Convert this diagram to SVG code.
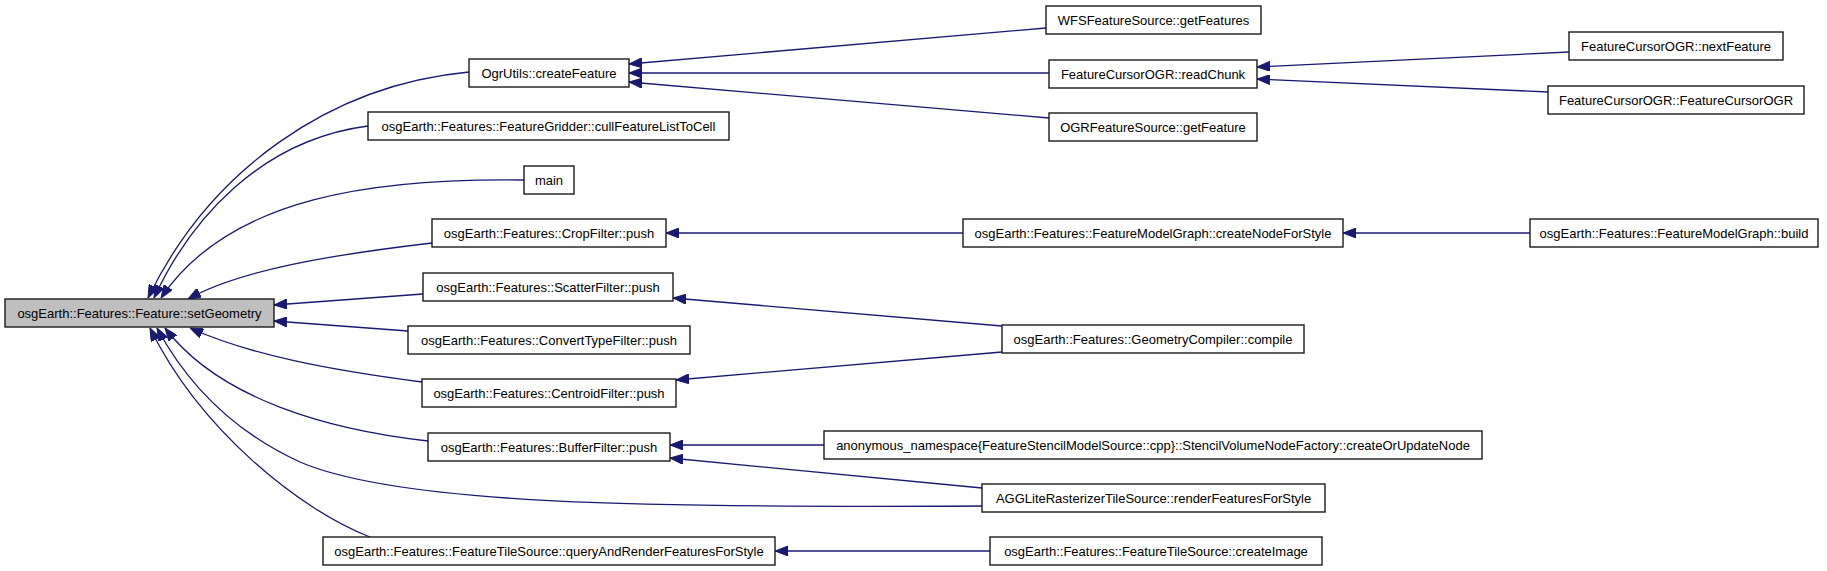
<svg xmlns="http://www.w3.org/2000/svg" width="1827" height="571" viewBox="0 0 1827 571">
<style>
.n rect{fill:#ffffff;stroke:#1a1a1a;stroke-width:1.4}
.n.cur rect{fill:#bfbfbf}
.n text{font-family:"Liberation Sans",Arial,sans-serif;font-size:13px;fill:#000;text-anchor:middle}
.e path{fill:none;stroke:#191970;stroke-width:1.3;marker-end:url(#arr)}
</style>
<defs>
<marker id="arr" viewBox="0 0 13 10" refX="13" refY="5" markerWidth="13" markerHeight="10" markerUnits="userSpaceOnUse" orient="auto">
<path d="M0,0 L13,5 L0,10 z" fill="#191970" stroke="#191970" stroke-width="1"/>
</marker>
</defs>
<rect width="1827" height="571" fill="#ffffff"/>
<g id="edges" class="e">
<path d="M469,72 C330,85 210,170 148,298"/>
<path d="M368,126 C260,140 190,220 154,298"/>
<path d="M524,180 C380,178 230,195 161,298"/>
<path d="M432,243 C330,255 240,270 188,299"/>
<path d="M423,294 L274,305"/>
<path d="M408,331 L274,321"/>
<path d="M422,382 C330,370 250,355 190,328"/>
<path d="M428,441 C330,430 220,400 165,328"/>
<path d="M982,506 C650,508 400,505 300,462 C230,430 185,380 157,328"/>
<path d="M370,537 C300,510 200,430 150,328"/>
<path d="M1046,28 L629,64"/>
<path d="M1049,73 L629,73"/>
<path d="M1049,118 L629,82"/>
<path d="M1569,52 L1257,67"/>
<path d="M1548,92 L1257,79"/>
<path d="M963,233 L666,233"/>
<path d="M1530,233 L1343,233"/>
<path d="M1002,326 L673,298"/>
<path d="M1002,352 L676,380"/>
<path d="M824,445 L670,445"/>
<path d="M982,488 L670,458"/>
<path d="M990,551 L775,551"/>
</g>
<g id="n_setGeometry" class="n cur"><rect x="5" y="299" width="269" height="28"/><text x="139.5" y="317.5">osgEarth::Features::Feature::setGeometry</text></g>
<g id="n_createFeature" class="n"><rect x="469" y="59" width="160" height="28"/><text x="549" y="77.5">OgrUtils::createFeature</text></g>
<g id="n_cull" class="n"><rect x="368" y="112" width="361" height="28"/><text x="548.5" y="130.5">osgEarth::Features::FeatureGridder::cullFeatureListToCell</text></g>
<g id="n_main" class="n"><rect x="524" y="166" width="50" height="28"/><text x="549" y="184.5">main</text></g>
<g id="n_crop" class="n"><rect x="432" y="219" width="234" height="28"/><text x="549" y="237.5">osgEarth::Features::CropFilter::push</text></g>
<g id="n_scatter" class="n"><rect x="423" y="273" width="250" height="28"/><text x="548" y="291.5">osgEarth::Features::ScatterFilter::push</text></g>
<g id="n_convert" class="n"><rect x="408" y="326" width="282" height="28"/><text x="549" y="344.5">osgEarth::Features::ConvertTypeFilter::push</text></g>
<g id="n_centroid" class="n"><rect x="422" y="379" width="254" height="28"/><text x="549" y="397.5">osgEarth::Features::CentroidFilter::push</text></g>
<g id="n_buffer" class="n"><rect x="428" y="433" width="242" height="28"/><text x="549" y="451.5">osgEarth::Features::BufferFilter::push</text></g>
<g id="n_query" class="n"><rect x="323" y="537" width="452" height="28"/><text x="549" y="555.5">osgEarth::Features::FeatureTileSource::queryAndRenderFeaturesForStyle</text></g>
<g id="n_wfs" class="n"><rect x="1046" y="6" width="215" height="28"/><text x="1153.5" y="24.5">WFSFeatureSource::getFeatures</text></g>
<g id="n_readChunk" class="n"><rect x="1049" y="60" width="208" height="28"/><text x="1153" y="78.5">FeatureCursorOGR::readChunk</text></g>
<g id="n_ogrGet" class="n"><rect x="1049" y="113" width="208" height="28"/><text x="1153" y="131.5">OGRFeatureSource::getFeature</text></g>
<g id="n_next" class="n"><rect x="1569" y="32" width="214" height="28"/><text x="1676" y="50.5">FeatureCursorOGR::nextFeature</text></g>
<g id="n_ctor" class="n"><rect x="1548" y="86" width="256" height="28"/><text x="1676" y="104.5">FeatureCursorOGR::FeatureCursorOGR</text></g>
<g id="n_createNode" class="n"><rect x="963" y="219" width="380" height="28"/><text x="1153" y="237.5">osgEarth::Features::FeatureModelGraph::createNodeForStyle</text></g>
<g id="n_build" class="n"><rect x="1530" y="219" width="288" height="28"/><text x="1674" y="237.5">osgEarth::Features::FeatureModelGraph::build</text></g>
<g id="n_compile" class="n"><rect x="1002" y="325" width="302" height="28"/><text x="1153" y="343.5">osgEarth::Features::GeometryCompiler::compile</text></g>
<g id="n_anon" class="n"><rect x="824" y="431" width="658" height="28"/><text x="1153" y="449.5">anonymous_namespace{FeatureStencilModelSource::cpp}::StencilVolumeNodeFactory::createOrUpdateNode</text></g>
<g id="n_agg" class="n"><rect x="982" y="484" width="343" height="28"/><text x="1153.5" y="502.5">AGGLiteRasterizerTileSource::renderFeaturesForStyle</text></g>
<g id="n_createImage" class="n"><rect x="990" y="537" width="332" height="28"/><text x="1156" y="555.5">osgEarth::Features::FeatureTileSource::createImage</text></g>
</svg>
